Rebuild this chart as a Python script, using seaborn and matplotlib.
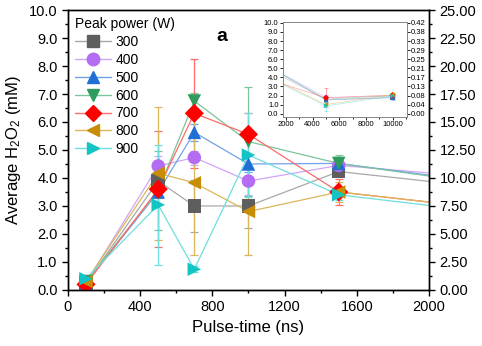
import numpy as np
import pandas as pd
import matplotlib
matplotlib.use("Agg")
import matplotlib.pyplot as plt
from matplotlib.lines import Line2D
from matplotlib.ticker import MultipleLocator, FormatStrFormatter, FixedLocator
import seaborn as sns

# ---------------- data ----------------
pulse_time = [100, 500, 700, 1000, 1500, 2000, 5000, 10000]
powers = ["300", "400", "500", "600", "700", "800", "900"]

h2o2_300 = [0.25, 3.89, 3.00, 3.00, 4.23, 3.88, 1.55, 1.80]
h2o2_400 = [0.25, 4.43, 4.73, 3.89, 4.45, 4.18, 1.80, 1.90]
h2o2_500 = [0.25, 3.50, 5.63, 4.50, 4.52, 4.10, 1.50, 1.75]
h2o2_600 = [0.30, 3.55, 6.75, 5.30, 4.52, 4.07, 1.60, 2.00]
h2o2_700 = [0.20, 3.60, 6.31, 5.56, 3.50, 3.14, 1.75, 2.05]
h2o2_800 = [0.30, 4.17, 3.83, 2.80, 3.50, 3.14, 1.00, 2.10]
h2o2_900 = [0.40, 3.04, 0.74, 4.82, 3.40, 3.02, 0.85, 1.95]

err_300 = [0.05, 0.15, 0.92, 0.77, 0.15, 0.2, 0.30, 0.20]
err_400 = [0.05, 0.36, 0.25, 0.50, 0.20, 0.2, 0.30, 0.20]
err_500 = [0.05, 0.20, 0.30, 0.30, 0.20, 0.2, 0.30, 0.20]
err_600 = [0.05, 1.42, 0.30, 1.96, 0.30, 0.2, 0.30, 0.20]
err_700 = [0.05, 2.07, 1.95, 0.75, 0.45, 0.2, 1.05, 0.20]
err_800 = [0.05, 2.38, 2.58, 1.55, 0.37, 0.2, 0.30, 0.20]
err_900 = [0.05, 2.15, 0.10, 1.49, 0.20, 0.2, 0.60, 0.20]

values = [h2o2_300, h2o2_400, h2o2_500, h2o2_600, h2o2_700, h2o2_800, h2o2_900]
errors = [err_300, err_400, err_500, err_600, err_700, err_800, err_900]

marker_colors = ["#5e5e5e", "#b36cf2", "#1f6fd6", "#2e9c5c", "#ff0000", "#c68d05", "#12c4c4"]
line_colors = ["#a8a8a8", "#cfa6f7", "#6fa3e8", "#7cc49a", "#ff6a6a", "#dcb65a", "#6fdede"]
markers = ["s", "o", "^", "v", "D", "<", ">"]

rows = []
for p, v, e in zip(powers, values, errors):
    for t, y, er in zip(pulse_time, v, e):
        rows.append({"time": t, "h2o2": y, "err": er, "power": p})
df = pd.DataFrame(rows)

# ---------------- figure ----------------
sns.set_theme(style="ticks")
plt.rcParams["font.family"] = ["Liberation Sans", "DejaVu Sans"]
plt.rcParams["mathtext.fontset"] = "custom"
plt.rcParams["mathtext.rm"] = "Liberation Sans"
plt.rcParams["mathtext.it"] = "Liberation Sans"
for k in ["text.color", "axes.labelcolor", "xtick.color", "ytick.color", "axes.edgecolor"]:
    plt.rcParams[k] = "black"

fig = plt.figure(figsize=(4.82, 3.46), dpi=100)
ax = fig.add_axes([0.141, 0.162, 0.749, 0.809])

line_pal = dict(zip(powers, line_colors))
mark_pal = dict(zip(powers, marker_colors))
mark_dict = dict(zip(powers, markers))

sns.lineplot(data=df, x="time", y="h2o2", hue="power", palette=line_pal,
             estimator=None, sort=True, linewidth=0.9, legend=False, ax=ax, zorder=1)
for p, lc in zip(powers, line_colors):
    sub = df[(df.power == p) & (df.time < 2000)]
    ax.errorbar(sub.time, sub.h2o2, yerr=sub.err, fmt="none", ecolor=lc,
                elinewidth=0.9, capsize=2.8, capthick=0.9, zorder=2)
sns.scatterplot(data=df[df.time < 2000], x="time", y="h2o2", hue="power", style="power",
                palette=mark_pal, markers=mark_dict, s=95, linewidth=0,
                legend=False, ax=ax, zorder=3)

ax.set_xlim(0, 2000)
ax.set_ylim(0, 10)
ax.xaxis.set_major_locator(MultipleLocator(400))
ax.xaxis.set_minor_locator(MultipleLocator(200))
ax.yaxis.set_major_locator(MultipleLocator(1))
ax.yaxis.set_minor_locator(MultipleLocator(0.5))
ax.yaxis.set_major_formatter(FormatStrFormatter("%.1f"))
ax.tick_params(axis="both", which="major", length=4, width=1, labelsize=10.5, direction="out", colors="black")
ax.tick_params(axis="both", which="minor", length=2.5, width=1, direction="out", colors="black")
ax.set_xlabel("Pulse-time (ns)", fontsize=12, color="black")
ax.set_ylabel("Average H$_2$O$_2$ (mM)", fontsize=12, color="black")
for s in ax.spines.values():
    s.set_color("black")
    s.set_linewidth(1)

ax2 = ax.twinx()
ax2.set_ylim(0, 25)
ax2.yaxis.set_major_locator(MultipleLocator(2.5))
ax2.yaxis.set_minor_locator(MultipleLocator(1.25))
ax2.yaxis.set_major_formatter(FormatStrFormatter("%.2f"))
ax2.tick_params(axis="y", which="major", length=4, width=1, labelsize=10.5, direction="out", colors="black")
ax2.tick_params(axis="y", which="minor", length=2.5, width=1, direction="out", colors="black")
for s in ax2.spines.values():
    s.set_color("black")
    s.set_linewidth(1)

# legend
handles = [Line2D([], [], color=lc, lw=1.0, marker=m, markersize=9 if m != "D" else 8,
                  markerfacecolor=mc, markeredgecolor=mc)
           for lc, mc, m in zip(line_colors, marker_colors, markers)]
leg = ax.legend(handles, powers, title="Peak power (W)", loc="upper left",
                bbox_to_anchor=(0.0, 1.0), frameon=False, fontsize=10,
                title_fontsize=10, handlelength=2.6, labelspacing=0.28,
                borderpad=0.3, handletextpad=0.3, borderaxespad=0.2)
leg._legend_box.align = "left"
leg.get_title().set_color("black")
for t in leg.get_texts():
    t.set_color("black")

ax.text(0.425, 0.905, "a", transform=ax.transAxes, fontsize=14, fontweight="bold",
        ha="center", va="center", color="black")

# ---------------- inset ----------------
ins = fig.add_axes([0.5865, 0.661, 0.257, 0.2754])
sns.lineplot(data=df, x="time", y="h2o2", hue="power", palette=line_pal,
             estimator=None, sort=True, linewidth=0.5, alpha=0.6, legend=False, ax=ins, zorder=1)
for p, lc in zip(powers, line_colors):
    sub = df[(df.power == p) & (df.time > 2000)]
    ins.errorbar(sub.time, sub.h2o2, yerr=sub.err, fmt="none", ecolor=lc,
                 elinewidth=0.5, capsize=1.2, capthick=0.5, alpha=0.8, zorder=2)
sns.scatterplot(data=df[df.time > 2000], x="time", y="h2o2", hue="power", style="power",
                palette=mark_pal, markers=mark_dict, s=10, linewidth=0,
                legend=False, ax=ins, zorder=3)
ins.set_xlim(1750, 11050)
ins.set_ylim(-0.4, 10.1)
ins.xaxis.set_major_locator(FixedLocator([2000, 4000, 6000, 8000, 10000]))
ins.xaxis.set_minor_locator(MultipleLocator(1000))
ins.yaxis.set_major_locator(MultipleLocator(1))
ins.yaxis.set_major_formatter(FormatStrFormatter("%.1f"))
ins.tick_params(axis="both", which="major", length=2, width=0.6, labelsize=5.5, pad=1, colors="black")
ins.tick_params(axis="both", which="minor", length=1.2, width=0.6, colors="black")
ins.set_xlabel("")
ins.set_ylabel("")
for s in ins.spines.values():
    s.set_color("#888888")
    s.set_linewidth(0.7)

ins2 = ins.twinx()
ins2.set_ylim(-0.4, 10.1)
ins2.yaxis.set_major_locator(FixedLocator(list(range(11))))
ins2.set_yticklabels(["0.00", "0.04", "0.08", "0.13", "0.17", "0.21",
                      "0.25", "0.29", "0.33", "0.38", "0.42"])
ins2.tick_params(axis="y", which="major", length=2, width=0.6, labelsize=5.5, pad=1, colors="black")
for s in ins2.spines.values():
    s.set_color("#888888")
    s.set_linewidth(0.7)

fig.savefig("out.png", dpi=100)
